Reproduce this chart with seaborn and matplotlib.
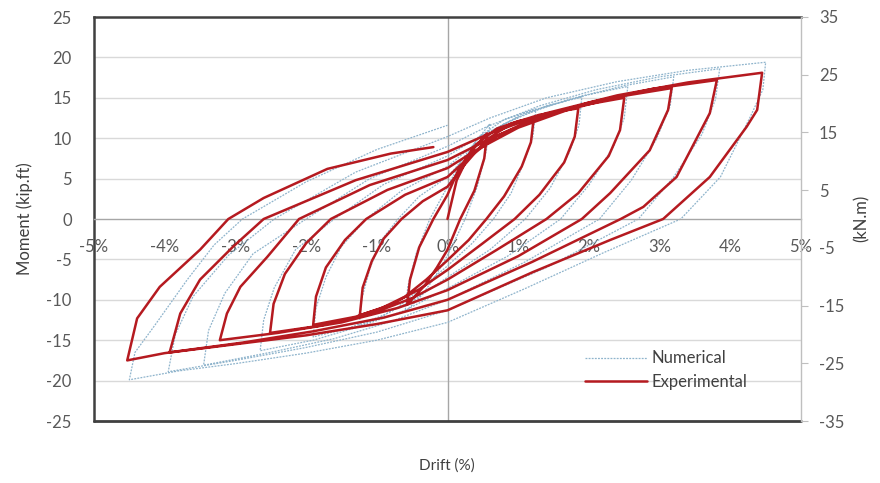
import seaborn as sns
import matplotlib.pyplot as plt

# Experimental hysteresis path (drift %, moment kip.ft)
exp_drift = [
    0, 0.13, 0.32, 0.56, 0.52, 0.38, 0.18, 0, -0.15, -0.32, -0.57,
    -0.53, -0.40, -0.20, 0, 0.15, 0.40, 0.70, 1.00, 1.22,
    1.18, 1.05, 0.80, 0.55, 0.30, 0, -0.30, -0.60, -0.95, -1.24,
    -1.20, -1.07, -0.90, -0.65, -0.35, 0, 0.25, 0.55, 0.90, 1.30, 1.85,
    1.80, 1.65, 1.30, 0.95, 0.50, 0, -0.40, -0.80, -1.30, -1.90,
    -1.86, -1.72, -1.45, -1.15, -0.60, 0, 0.30, 0.70, 1.20, 1.80, 2.50,
    2.44, 2.28, 1.85, 1.40, 0.70, 0, -0.50, -1.10, -1.80, -2.51,
    -2.46, -2.30, -2.00, -1.65, -0.85, 0, 0.40, 1.00, 1.70, 2.40, 3.17,
    3.12, 2.86, 2.30, 1.90, 1.00, 0, -0.70, -1.50, -2.40, -3.22,
    -3.12, -2.93, -2.55, -2.10, -1.10, 0, 0.50, 1.20, 2.00, 2.90, 3.81,
    3.71, 3.24, 2.77, 2.45, 1.20, 0, -0.90, -1.90, -2.90, -3.93,
    -3.78, -3.50, -3.03, -2.60, -1.30, 0, 0.60, 1.40, 2.40, 3.40, 4.45,
    4.38, 4.23, 3.71, 3.24, 3.05, 2.30, 1.20, 0, -1.00, -2.00, -3.00, -4.00, -4.53,
    -4.39, -4.07, -3.50, -3.10, -2.60, -1.70, -0.80, -0.20,
]
exp_moment = [
    0, 4.8, 8.2, 10.6, 7.5, 3.5, 0, -3.8, -6.0, -8.2, -10.6,
    -7.5, -3.5, 0, 3.0, 6.0, 9.2, 11.2, 12.1, 12.5,
    9.5, 6.5, 2.8, 0, -2.6, -5.1, -7.5, -9.6, -11.1, -11.9,
    -8.5, -5.2, -2.4, 0, 2.2, 4.0, 6.8, 9.8, 11.8, 12.9, 13.7,
    10.2, 7.0, 3.0, 0, -3.0, -6.3, -8.7, -10.6, -12.1, -13.1,
    -9.6, -6.0, -2.6, 0, 3.0, 5.2, 7.6, 10.3, 12.3, 13.9, 15.0,
    11.0, 7.8, 3.2, 0, -3.8, -7.5, -9.8, -11.8, -13.2, -14.1,
    -10.5, -6.8, -3.0, 0, 3.6, 6.3, 8.5, 11.3, 13.5, 15.1, 16.2,
    13.5, 8.5, 3.2, 0, -4.6, -8.8, -11.0, -12.8, -14.1, -15.0,
    -11.7, -8.4, -4.7, 0, 4.2, 7.3, 9.5, 12.2, 14.4, 16.1, 17.2,
    13.1, 5.2, 1.5, 0, -5.3, -10.0, -12.2, -13.9, -15.3, -16.5,
    -11.7, -7.5, -3.4, 0, 4.8, 8.3, 10.6, 13.1, 15.3, 16.9, 18.1,
    13.5, 11.4, 5.2, 1.5, 0, -2.6, -6.6, -11.3, -13.0, -14.4, -15.5, -16.6, -17.5,
    -12.3, -8.4, -3.8, 0, 2.6, 6.2, 8.1, 8.9,
]

# Numerical model path
num_drift = [
    0, 0.15, 0.35, 0.60, 0.55, 0.42, 0.25, 0, -0.20, -0.40, -0.60,
    -0.56, -0.44, -0.25, 0, 0.20, 0.45, 0.80, 1.25,
    1.21, 1.08, 0.90, 0.65, 0.35, 0, -0.35, -0.70, -1.00, -1.25,
    -1.21, -1.10, -0.95, -0.70, -0.40, 0, 0.30, 0.65, 1.10, 1.50, 1.90,
    1.86, 1.72, 1.45, 1.10, 0.60, 0, -0.45, -0.90, -1.40, -1.90,
    -1.86, -1.72, -1.50, -1.15, -0.65, 0, 0.35, 0.80, 1.40, 2.00, 2.55,
    2.50, 2.35, 2.00, 1.60, 0.85, 0, -0.60, -1.20, -1.90, -2.65,
    -2.60, -2.45, -2.15, -1.60, -0.90, 0, 0.45, 1.10, 1.80, 2.50, 3.20,
    3.15, 2.95, 2.60, 2.15, 1.10, 0, -0.80, -1.60, -2.50, -3.45,
    -3.38, -3.15, -2.75, -2.00, -1.10, 0, 0.55, 1.30, 2.10, 3.00, 3.85,
    3.79, 3.60, 3.20, 2.70, 1.40, 0, -1.00, -2.00, -3.00, -3.95,
    -3.85, -3.60, -3.10, -2.45, -1.30, 0, 0.60, 1.40, 2.40, 3.40, 4.50,
    4.46, 4.28, 3.86, 3.30, 2.20, 1.10, 0, -1.00, -2.00, -3.00, -3.80, -4.50,
    -4.42, -4.16, -3.68, -3.30, -2.90, -2.00, -1.00, 0,
]
num_moment = [
    0, 5.5, 9.0, 11.8, 8.5, 4.0, 0, -4.5, -7.5, -9.8, -11.5,
    -8.3, -4.2, 0, 4.0, 7.3, 10.2, 12.3, 13.6,
    10.3, 7.0, 3.2, 0, -3.0, -5.8, -8.4, -10.9, -12.4, -13.2,
    -9.8, -6.2, -2.8, 0, 2.8, 5.2, 8.2, 11.0, 13.2, 14.2, 15.1,
    11.6, 8.2, 3.8, 0, -3.8, -7.2, -9.9, -11.9, -13.5, -14.6,
    -11.0, -7.2, -3.4, 0, 3.5, 6.5, 9.0, 11.8, 14.0, 15.4, 16.4,
    12.5, 9.0, 4.2, 0, -4.6, -8.6, -11.3, -13.2, -15.0, -16.3,
    -12.5, -8.5, -3.8, 0, 4.3, 7.8, 10.2, 13.0, 15.0, 16.5, 17.6,
    14.0, 9.8, 4.8, 0, -5.3, -10.0, -12.7, -14.8, -16.5, -18.1,
    -13.8, -9.2, -4.3, 0, 5.0, 9.0, 11.4, 14.0, 16.0, 17.6, 18.6,
    14.8, 10.5, 5.2, 0, -6.0, -11.3, -14.0, -15.9, -17.5, -18.9,
    -14.3, -9.6, -4.5, 0, 5.8, 10.2, 12.5, 15.0, 17.0, 18.4, 19.4,
    16.0, 12.6, 5.2, 0, -4.2, -8.6, -12.8, -15.0, -16.6, -17.9, -18.8, -19.9,
    -16.5, -13.4, -7.5, -3.2, 0, 4.6, 8.6, 11.6,
]

drift_ticks = [-5, -4, -3, -2, -1, 0, 1, 2, 3, 4, 5]
kip_ticks = [-25, -20, -15, -10, -5, 0, 5, 10, 15, 20, 25]
kn_ticks = [-35, -25, -15, -5, 5, 15, 25, 35]

sns.set_style("white")
plt.rcParams['font.family'] = ['Lato', 'DejaVu Sans']
plt.rcParams['axes.unicode_minus'] = False

fig = plt.figure(figsize=(8.8, 4.83), dpi=100)
ax = fig.add_axes([94 / 880, 62 / 483, 707 / 880, 404 / 483])

for y in kip_ticks[1:-1]:
    if y != 0:
        ax.axhline(y, color='#d9d9d9', lw=1, zorder=0)
ax.axvline(0, color='#a6a6a6', lw=1, zorder=1)

sns.lineplot(x=num_drift, y=num_moment, sort=False, estimator=None, ax=ax,
             color='#8fb4cc', lw=0.9, linestyle=(0, (1.5, 1)), label='Numerical', zorder=2)
sns.lineplot(x=exp_drift, y=exp_moment, sort=False, estimator=None, ax=ax,
             color='#b51a20', lw=1.8, label='Experimental', zorder=3)

ax.set_xlim(-5, 5)
ax.set_ylim(-25, 25)
ax.set_xticks(drift_ticks)
ax.set_xticklabels([f"{v}%" for v in drift_ticks])
ax.set_yticks(kip_ticks)

ax.spines['bottom'].set_position(('data', 0))
ax.spines['bottom'].set_color('#a6a6a6')
ax.spines['bottom'].set_linewidth(1)
for s in ['top', 'left']:
    ax.spines[s].set_color('#404040')
    ax.spines[s].set_linewidth(1.8)
ax.spines['right'].set_visible(False)
ax.axhline(-25, color='#404040', lw=2, clip_on=False, zorder=4)

ax.tick_params(axis='x', direction='inout', length=5, width=1, color='#a6a6a6',
               pad=12, labelsize=12, labelcolor='#595959')
ax.tick_params(axis='y', length=0, pad=16, labelsize=12, labelcolor='#595959')
ax.set_xlabel('')
ax.set_ylabel('')

ax2 = ax.twinx()
ax2.set_ylim(-35, 35)
ax2.set_yticks(kn_ticks)
for s in ['top', 'left', 'bottom']:
    ax2.spines[s].set_visible(False)
ax2.spines['right'].set_color('#bfbfbf')
ax2.spines['right'].set_linewidth(1)
ax2.tick_params(axis='y', direction='out', length=5, color='#bfbfbf',
                pad=8, labelsize=12, labelcolor='#595959')

leg = ax.legend(loc='center left', bbox_to_anchor=(0.683, 0.126), frameon=False,
                fontsize=12, handlelength=3.7, handletextpad=0.3, labelspacing=0.45,
                borderpad=0)
for t in leg.get_texts():
    t.set_color('#404040')

fig.text(25 / 880, 1 - 219 / 483, 'Moment (kip.ft)', rotation=90, ha='center', va='center',
         fontsize=12, color='#404040')
fig.text(862 / 880, 1 - 218 / 483, '(kN.m)', rotation=90, ha='center', va='center',
         fontsize=12, color='#404040')
fig.text(447 / 880, 1 - 466 / 483, 'Drift (%)', ha='center', va='center',
         fontsize=11, color='#404040')

fig.savefig('out.png', dpi=100)
